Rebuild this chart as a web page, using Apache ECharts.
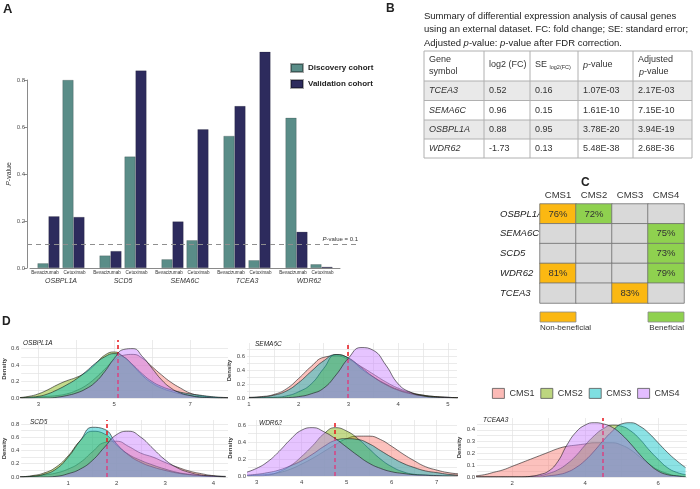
<!DOCTYPE html>
<html><head><meta charset="utf-8">
<script src="https://cdn.jsdelivr.net/npm/echarts@6/dist/echarts.min.js"></script>
<style>html,body{margin:0;padding:0;background:#fff}#c{width:700px;height:489px}</style>
</head><body><div id="c"></div>
<script>
// ---------- Panel A data ----------
const genesA = ['OSBPL1A','SCD5','SEMA6C','TCEA3','WDR62'];
const discBev = [0.02, 0.053, 0.037, 0.562, 0.639];
const valBev  = [0.22, 0.072, 0.198, 0.689, 0.154];
const discCet = [0.80, 0.474, 0.118, 0.033, 0.016];
const valCet  = [0.217, 0.84, 0.59, 0.92, 0.005];
const drugLabels = ['Bevacizumab','Cetuximab'];
const pThreshold = 0.1;

// ---------- Panel B data ----------
const captionLines = [
  'Summary of differential expression analysis of causal genes',
  'using an external dataset. FC: fold change; SE: standard error;',
  'Adjusted {i|p}-value: {i|p}-value after FDR correction.'
];
const tableGenes = ['TCEA3','SEMA6C','OSBPL1A','WDR62'];
const tableLog2FC = ['0.52','0.96','0.88','-1.73'];
const tableSE = ['0.16','0.15','0.95','0.13'];
const tableP = ['1.07E-03','1.61E-10','3.78E-20','5.48E-38'];
const tableAdjP = ['2.17E-03','7.15E-10','3.94E-19','2.68E-36'];

// ---------- Panel C data ----------
const cmsGroups = ['CMS1','CMS2','CMS3','CMS4'];
const cGenes = ['OSBPL1A','SEMA6C','SCD5','WDR62','TCEA3'];
// 0 = none, 1 = non-beneficial, 2 = beneficial
const cellCode = [[1,2,0,0],[0,0,0,2],[0,0,0,2],[1,0,0,2],[0,0,1,0]];
const cellPct = [['76%','72%','',''],['','','','75%'],['','','','73%'],['81%','','','79%'],['','','83%','']];

// ---------- Panel D data ----------
const osbX = [2.5,2.75,3,3.25,3.5,3.75,4,4.25,4.5,4.75,5,5.25,5.5,5.75,6,6.25,6.5,6.75,7,7.25,7.5,7.75,8];
const osbCMS1 = [0,0,0.01,0.02,0.03,0.05,0.09,0.15,0.24,0.35,0.46,0.52,0.53,0.48,0.38,0.28,0.19,0.12,0.06,0.03,0.015,0.005,0];
const osbCMS2 = [0.005,0.02,0.05,0.1,0.16,0.21,0.25,0.31,0.41,0.52,0.56,0.5,0.39,0.27,0.18,0.12,0.08,0.05,0.03,0.015,0.005,0,0];
const osbCMS3 = [0,0.01,0.02,0.05,0.1,0.16,0.23,0.32,0.42,0.5,0.54,0.5,0.4,0.29,0.2,0.14,0.1,0.07,0.05,0.035,0.02,0.01,0.005];
const osbCMS4 = [0,0,0,0,0.01,0.03,0.06,0.11,0.19,0.32,0.48,0.59,0.6,0.5,0.36,0.22,0.12,0.06,0.03,0.01,0.005,0,0];

const semX = [1,1.25,1.5,1.75,2,2.25,2.5,2.75,3,3.25,3.5,3.75,4,4.25,4.5,4.75,5,5.25];
const semCMS1 = [0.01,0.02,0.05,0.13,0.28,0.45,0.58,0.6,0.55,0.45,0.34,0.23,0.14,0.08,0.04,0.02,0.01,0];
const semCMS2 = [0,0.005,0.01,0.03,0.09,0.2,0.42,0.62,0.57,0.42,0.3,0.2,0.12,0.07,0.04,0.02,0.01,0];
const semCMS3 = [0.005,0.015,0.04,0.1,0.22,0.38,0.53,0.62,0.57,0.44,0.3,0.19,0.11,0.06,0.03,0.015,0.005,0];
const semCMS4 = [0,0,0,0.005,0.02,0.06,0.14,0.33,0.57,0.72,0.68,0.47,0.2,0.08,0.03,0.01,0.005,0];

const scdX = [0,0.25,0.5,0.75,1,1.25,1.5,1.75,2,2.25,2.5,2.75,3,3.25,3.5,3.75,4,4.25];
const scdCMS1 = [0,0.01,0.03,0.06,0.12,0.22,0.38,0.52,0.54,0.46,0.36,0.3,0.22,0.15,0.09,0.05,0.02,0.01];
const scdCMS2 = [0,0.02,0.06,0.15,0.32,0.55,0.69,0.65,0.48,0.34,0.25,0.18,0.12,0.07,0.04,0.02,0.01,0];
const scdCMS3 = [0,0.01,0.04,0.12,0.3,0.55,0.75,0.72,0.5,0.33,0.22,0.15,0.1,0.06,0.035,0.02,0.01,0];
const scdCMS4 = [0,0,0,0.01,0.05,0.12,0.25,0.45,0.64,0.69,0.6,0.43,0.26,0.14,0.07,0.03,0.015,0.005];

const wdrX = [2.75,3,3.25,3.5,3.75,4,4.25,4.5,4.75,5,5.25,5.5,5.75,6,6.25,6.5,6.75,7,7.25,7.5];
const wdrCMS1 = [0,0.01,0.02,0.04,0.08,0.14,0.21,0.29,0.37,0.44,0.47,0.47,0.43,0.35,0.26,0.18,0.11,0.07,0.04,0.025];
const wdrCMS2 = [0,0,0.01,0.05,0.12,0.23,0.36,0.5,0.57,0.53,0.44,0.32,0.2,0.11,0.05,0.02,0.01,0,0,0];
const wdrCMS3 = [0.01,0.02,0.04,0.07,0.12,0.18,0.26,0.35,0.42,0.44,0.43,0.38,0.3,0.22,0.15,0.1,0.06,0.04,0.02,0.01];
const wdrCMS4 = [0.04,0.09,0.17,0.29,0.43,0.54,0.57,0.52,0.44,0.34,0.24,0.15,0.09,0.05,0.03,0.015,0.01,0.005,0,0];

const tceX = [1,1.25,1.5,1.75,2,2.25,2.5,2.75,3,3.25,3.5,3.75,4,4.25,4.5,4.75,5,5.25,5.5,5.75,6,6.25,6.5,6.75];
const tceCMS1 = [0.01,0.02,0.04,0.06,0.09,0.12,0.15,0.18,0.21,0.24,0.26,0.27,0.28,0.29,0.29,0.29,0.27,0.23,0.17,0.11,0.06,0.03,0.01,0.005];
const tceCMS2 = [0,0,0,0,0,0,0.005,0.01,0.03,0.06,0.11,0.18,0.27,0.35,0.41,0.44,0.43,0.39,0.32,0.23,0.15,0.08,0.04,0.02];
const tceCMS3 = [0,0,0,0,0,0,0,0,0.01,0.02,0.04,0.08,0.14,0.22,0.31,0.39,0.45,0.46,0.43,0.37,0.29,0.21,0.14,0.08];
const tceCMS4 = [0,0,0,0,0,0,0.005,0.02,0.05,0.13,0.27,0.38,0.44,0.46,0.45,0.42,0.36,0.28,0.19,0.11,0.05,0.02,0.01,0];

const densTitles = ['OSBPL1A','SEMA6C','SCD5','WDR62','TCEAA3'];
const cutoffs = [5.1, 2.98, 1.8, 4.74, 4.48];
const d1XLabels = [3,5,7], d1XGrid = [3,4,5,6,7], d1YLabels = [0,0.2,0.4,0.6], d1YGrid = [0,0.1,0.2,0.3,0.4,0.5,0.6];
const d2XLabels = [1,2,3,4,5], d2XGrid = [1,1.5,2,2.5,3,3.5,4,4.5,5], d2YLabels = [0,0.2,0.4,0.6], d2YGrid = [0,0.1,0.2,0.3,0.4,0.5,0.6,0.7];
const d3XLabels = [1,2,3,4], d3XGrid = [0.5,1,1.5,2,2.5,3,3.5,4], d3YLabels = [0,0.2,0.4,0.6,0.8], d3YGrid = [0,0.1,0.2,0.3,0.4,0.5,0.6,0.7,0.8];
const d4XLabels = [3,4,5,6,7], d4XGrid = [3,3.5,4,4.5,5,5.5,6,6.5,7], d4YLabels = [0,0.2,0.4,0.6], d4YGrid = [0,0.1,0.2,0.3,0.4,0.5,0.6];
const d5XLabels = [2,4,6], d5XGrid = [2,3,4,5,6], d5YLabels = [0,0.1,0.2,0.3,0.4], d5YGrid = [0,0.05,0.1,0.15,0.2,0.25,0.3,0.35,0.4,0.45];

// ---------- styling ----------
const FF = 'Liberation Sans, Arial, Helvetica, sans-serif';
const TEAL = '#5a8d88', NAVY = '#2d2b5d';
const CMS_COL = ['#F8766D','#7CAE00','#00BFC4','#C77CFF'];
const CMS_LIGHT = ['#fbbab6','#bdd67f','#7fdfe1','#e3bdff'];
const ORANGE = '#fbb812', GREEN = '#8fd14f', GRAYC = '#d9d9d9';

const chart = echarts.init(document.getElementById('c'));

// ---------- grids & axes ----------
const grids = [
  {left:30, top:80, width:310, height:188},
  {left:540, top:204, width:144, height:99},
  {left:20, top:340, width:208, height:58},
  {left:247, top:343, width:210, height:55},
  {left:20, top:420, width:208, height:57},
  {left:248, top:420, width:209, height:56},
  {left:477, top:418, width:210, height:59}
];
const dSpecs = [
  {xmin:2.55, xmax:8.0, ymax:0.705, xl:d1XLabels, xg:d1XGrid, yl:d1YLabels, yg:d1YGrid, xs:osbX, ys:[osbCMS1,osbCMS2,osbCMS3,osbCMS4]},
  {xmin:0.96, xmax:5.18, ymax:0.785, xl:d2XLabels, xg:d2XGrid, yl:d2YLabels, yg:d2YGrid, xs:semX, ys:[semCMS1,semCMS2,semCMS3,semCMS4]},
  {xmin:0.03, xmax:4.3, ymax:0.86, xl:d3XLabels, xg:d3XGrid, yl:d3YLabels, yg:d3YGrid, xs:scdX, ys:[scdCMS1,scdCMS2,scdCMS3,scdCMS4]},
  {xmin:2.81, xmax:7.45, ymax:0.66, xl:d4XLabels, xg:d4XGrid, yl:d4YLabels, yg:d4YGrid, xs:wdrX, ys:[wdrCMS1,wdrCMS2,wdrCMS3,wdrCMS4]},
  {xmin:1.04, xmax:6.79, ymax:0.5, xl:d5XLabels, xg:d5XGrid, yl:d5YLabels, yg:d5YGrid, xs:tceX, ys:[tceCMS1,tceCMS2,tceCMS3,tceCMS4]}
];

const xAxes = [
  {gridIndex:0, type:'category', data:genesA,
   axisLine:{lineStyle:{color:'#8a8a8a', width:1}}, axisTick:{show:false},
   axisLabel:{fontFamily:FF, fontSize:7, fontStyle:'italic', color:'#333', margin:10}},
  {gridIndex:1, type:'category', data:cmsGroups, position:'top',
   axisLine:{show:false}, axisTick:{show:false}, splitLine:{show:false},
   axisLabel:{fontFamily:FF, fontSize:9.5, color:'#333', margin:4}}
];
const yAxes = [
  {gridIndex:0, type:'value', min:0, max:0.8, interval:0.2, offset:3,
   axisLine:{show:true, lineStyle:{color:'#8a8a8a'}}, axisTick:{show:true, length:3, lineStyle:{color:'#8a8a8a'}},
   splitLine:{show:false},
   axisLabel:{fontFamily:FF, fontSize:6, color:'#555', margin:2, formatter:v=>v.toFixed(1)},
   name:'{i|P}-value', nameLocation:'middle', nameGap:11, nameRotate:90,
   nameTextStyle:{fontFamily:FF, fontSize:7, color:'#333', rich:{i:{fontFamily:FF, fontSize:7, fontStyle:'italic', color:'#333'}}}},
  {gridIndex:1, type:'category', data:cGenes, inverse:true,
   axisLine:{show:false}, axisTick:{show:false}, splitLine:{show:false},
   axisLabel:{fontFamily:FF, fontSize:9.5, fontStyle:'italic', color:'#222', margin:40, align:'left'}}
];
dSpecs.forEach((s, k) => {
  const gi = 2 + k;
  xAxes.push({gridIndex:gi, type:'value', min:s.xmin, max:s.xmax,
    axisLine:{show:false}, axisTick:{show:false, customValues:s.xg},
    splitLine:{show:true, lineStyle:{color:'#e2e2e2', width:0.7}},
    axisLabel:{customValues:s.xl, fontFamily:FF, fontSize:6, color:'#444', margin:3, formatter:v=>String(v)}});
  yAxes.push({gridIndex:gi, type:'value', min:0, max:s.ymax,
    axisLine:{show:false}, axisTick:{show:false, customValues:s.yg},
    splitLine:{show:true, lineStyle:{color:'#e2e2e2', width:0.7}},
    axisLabel:{customValues:s.yl, fontFamily:FF, fontSize:6, color:'#444', margin:2, formatter:v=>v.toFixed(1)},
    name:'Density', nameLocation:'middle', nameRotate:90, nameGap:12,
    nameTextStyle:{fontFamily:FF, fontSize:6, fontWeight:'bold', color:'#333'}});
});

// ---------- series ----------
const barBorder = {borderColor:'rgba(0,0,0,0.35)', borderWidth:0.5};
const series = [
  {type:'bar', name:'Discovery cohort', xAxisIndex:0, yAxisIndex:0, data:discBev, barWidth:11, clip:false,
   itemStyle:Object.assign({color:TEAL}, barBorder)},
  {type:'bar', name:'Validation cohort', xAxisIndex:0, yAxisIndex:0, data:valBev, barWidth:11, clip:false,
   itemStyle:Object.assign({color:NAVY}, barBorder),
   label:{show:true, position:'bottom', distance:2, offset:[-9,0], formatter:drugLabels[0], fontFamily:FF, fontSize:4.6, color:'#333'}},
  {type:'bar', name:'spacer', xAxisIndex:0, yAxisIndex:0, data:[], barWidth:3, itemStyle:{color:'rgba(0,0,0,0)'}, silent:true},
  {type:'bar', name:'Discovery cohort', xAxisIndex:0, yAxisIndex:0, data:discCet, barWidth:11, clip:false,
   itemStyle:Object.assign({color:TEAL}, barBorder)},
  {type:'bar', name:'Validation cohort', xAxisIndex:0, yAxisIndex:0, data:valCet, barWidth:11, clip:false, barGap:'0%',
   itemStyle:Object.assign({color:NAVY}, barBorder),
   label:{show:true, position:'bottom', distance:2, offset:[-4.5,0], formatter:drugLabels[1], fontFamily:FF, fontSize:4.6, color:'#333'}}
];

const heatData = [];
cGenes.forEach((g, r) => cmsGroups.forEach((c, ci) => heatData.push([ci, r, cellCode[r][ci]])));
series.push({type:'heatmap', name:'cms', xAxisIndex:1, yAxisIndex:1, data:heatData,
  itemStyle:{borderColor:'#6f6f6f', borderWidth:0.8},
  label:{show:true, fontFamily:FF, fontSize:9.5, color:'#333', formatter:p => cellPct[p.value[1]][p.value[0]]},
  emphasis:{disabled:true}});

dSpecs.forEach((s, k) => {
  const gi = 2 + k;
  s.ys.forEach((ys, g) => {
    const ser = {type:'line', name:cmsGroups[g], xAxisIndex:gi, yAxisIndex:gi,
      data: s.xs.map((x, i) => [x, ys[i]]), smooth:true, symbol:'none', z:2 + g,
      lineStyle:{color:'#1a1a1a', width:0.7, opacity:0.85},
      itemStyle:{color:CMS_COL[g]},
      areaStyle:{color:CMS_COL[g], opacity:0.45}};
    if (g === 3) {
      ser.markLine = {silent:true, symbol:['none','none'], animation:false, label:{show:false},
        lineStyle:{color:'#e8141b', type:[4,3], width:1.5}, data:[{xAxis:cutoffs[k]}]};
    }
    series.push(ser);
  });
});

// ---------- graphics ----------
function txt(x, y, text, font, extra) {
  return {type:'text', x:x, y:y, silent:true,
    style:Object.assign({text:text, font:font, fill:'#222', textVerticalAlign:'middle'}, extra || {})};
}
const els = [];
els.push(txt(3, 9, 'A', 'bold 13px ' + FF));
els.push(txt(386, 9, 'B', 'bold 12px ' + FF));
els.push(txt(581, 183, 'C', 'bold 12px ' + FF));
els.push(txt(2, 322, 'D', 'bold 12px ' + FF));

// caption
captionLines.forEach((line, i) => {
  els.push(txt(424, 16 + i * 13.5, line, '9.5px ' + FF, {
    rich:{i:{fontFamily:FF, fontSize:9.5, fontStyle:'italic', fill:'#222'}}}));
});

// table
const colX = [424, 484, 530, 578, 633, 692];
const rowY = [51, 81, 100.5, 120, 139, 158];
[0, 2].forEach(r => els.push({type:'rect', silent:true,
  shape:{x:colX[0], y:rowY[r + 1], width:colX[5] - colX[0], height:rowY[r + 2] - rowY[r + 1]},
  style:{fill:'#e9e9e9'}}));
colX.forEach(x => els.push({type:'line', silent:true, shape:{x1:x, y1:rowY[0], x2:x, y2:rowY[5]}, style:{stroke:'#b0b0b0', lineWidth:1}}));
rowY.forEach(y => els.push({type:'line', silent:true, shape:{x1:colX[0], y1:y, x2:colX[5], y2:y}, style:{stroke:'#b0b0b0', lineWidth:1}}));
const TF = '9px ' + FF;
const richT = {i:{fontFamily:FF, fontSize:9, fontStyle:'italic', fill:'#333'}, s:{fontFamily:FF, fontSize:5.5, fill:'#333', padding:[4,0,0,0]}};
els.push(txt(colX[0] + 5, 60, 'Gene', TF, {fill:'#333'}));
els.push(txt(colX[0] + 5, 72, 'symbol', TF, {fill:'#333'}));
els.push(txt(colX[1] + 5, 65, 'log2 (FC)', TF, {fill:'#333'}));
els.push(txt(colX[2] + 5, 65, 'SE {s|log2(FC)}', TF, {fill:'#333', rich:richT}));
els.push(txt(colX[3] + 5, 65, '{i|p}-value', TF, {fill:'#333', rich:richT}));
els.push(txt(colX[4] + 5, 60, 'Adjusted', TF, {fill:'#333'}));
els.push(txt(colX[4] + 6, 72, '{i|p}-value', TF, {fill:'#333', rich:richT}));
tableGenes.forEach((g, r) => {
  const cy = (rowY[r + 1] + rowY[r + 2]) / 2;
  els.push(txt(colX[0] + 5, cy, g, 'italic 9px ' + FF, {fill:'#333'}));
  els.push(txt(colX[1] + 5, cy, tableLog2FC[r], TF, {fill:'#333'}));
  els.push(txt(colX[2] + 5, cy, tableSE[r], TF, {fill:'#333'}));
  els.push(txt(colX[3] + 5, cy, tableP[r], TF, {fill:'#333'}));
  els.push(txt(colX[4] + 5, cy, tableAdjP[r], TF, {fill:'#333'}));
});

// panel C legend
els.push({type:'rect', silent:true, shape:{x:540, y:312, width:36, height:10}, style:{fill:ORANGE, stroke:'#8a8a8a', lineWidth:0.8}});
els.push({type:'rect', silent:true, shape:{x:648, y:312, width:36, height:10}, style:{fill:GREEN, stroke:'#8a8a8a', lineWidth:0.8}});
els.push(txt(540, 328, 'Non-beneficial', '8px ' + FF, {fill:'#333'}));
els.push(txt(684, 328, 'Beneficial', '8px ' + FF, {fill:'#333', textAlign:'right'}));

// density titles
const titlePos = [[23,343],[255,344],[30,422],[259,423],[483,420]];
densTitles.forEach((t, k) => els.push(txt(titlePos[k][0], titlePos[k][1], t, 'italic 6.5px ' + FF, {fill:'#222'})));

const option = {
  animation:false,
  backgroundColor:'#fff',
  grid:grids,
  xAxis:xAxes,
  yAxis:yAxes,
  legend:[
    {data:['Discovery cohort','Validation cohort'], orient:'vertical', left:290, top:63, padding:0, itemWidth:12, itemHeight:8, itemGap:6,
     icon:'rect', selectedMode:false, textStyle:{fontFamily:FF, fontSize:8, fontWeight:'bold', color:'#222'}},
    {data:cmsGroups.map((c, g) => ({name:c, itemStyle:{color:CMS_LIGHT[g], borderColor:'#555', borderWidth:0.8}})),
     orient:'horizontal', left:492, top:388, width:208, padding:0, itemWidth:12, itemHeight:10, itemGap:6, icon:'rect', selectedMode:false,
     textStyle:{fontFamily:FF, fontSize:9, color:'#333'}}
  ],
  visualMap:{show:false, type:'piecewise', seriesIndex:5, dimension:2,
    pieces:[{value:0, color:GRAYC},{value:1, color:ORANGE},{value:2, color:GREEN}]},
  series:series,
  graphic:{elements:els}
};
chart.setOption(option);

// dashed P-value threshold line drawn through the library's own y scale
const yP = chart.convertToPixel({yAxisIndex:0}, pThreshold);
els.push({type:'line', silent:true, shape:{x1:27, y1:yP, x2:360, y2:yP}, style:{stroke:'#8f8f8f', lineWidth:1, lineDash:[5,4]}, z:10});
els.push(txt(358, yP - 5, '{i|P}-value = ' + pThreshold, '6px ' + FF, {fill:'#333', textAlign:'right',
  rich:{i:{fontFamily:FF, fontSize:6, fontStyle:'italic', fill:'#333'}}}));
chart.setOption({graphic:{elements:els}});
</script>
</body></html>
